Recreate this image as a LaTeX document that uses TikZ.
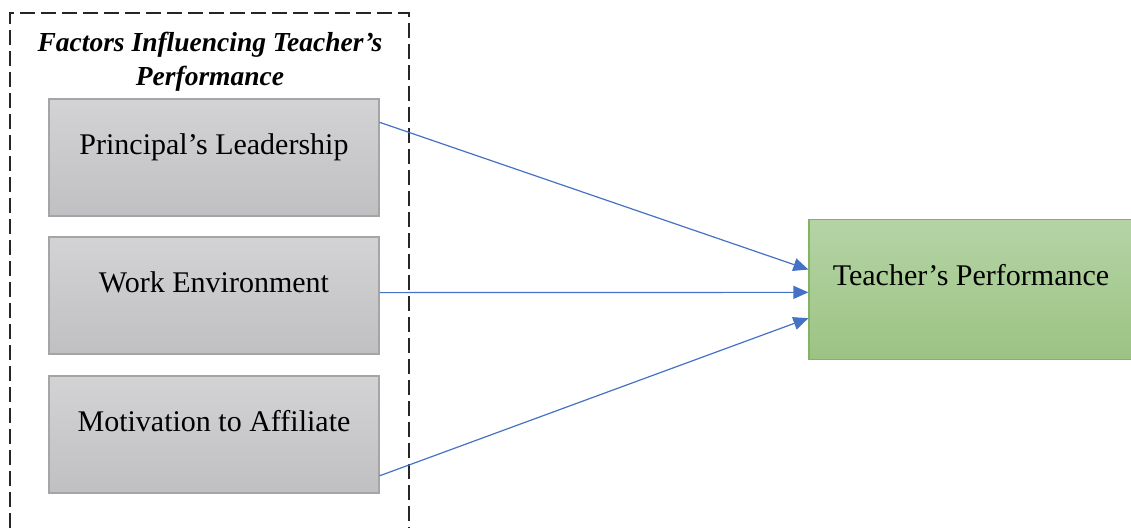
\documentclass[tikz,border=0pt]{standalone}
\usepackage{fontspec}
\setmainfont{Liberation Serif}
\usepackage{xcolor}
\usetikzlibrary{arrows.meta}

\definecolor{ArrowBlue}{HTML}{4472C4}
\definecolor{GreyTop}{HTML}{D3D3D5}
\definecolor{GreyBottom}{HTML}{C0C0C2}
\definecolor{GreyEdge}{HTML}{A5A5A5}
\definecolor{GreenTop}{HTML}{B5D4A6}
\definecolor{GreenBottom}{HTML}{9CC383}
\definecolor{GreenEdge}{HTML}{82B464}

\begin{document}
\begin{tikzpicture}[
          % Environment Config
          x=1pt, y=-1pt,
          font=\fontsize{30}{36}\selectfont,
          FactorBox/.style={% Style for the grey factor boxes
            draw=GreyEdge,
            line width=1.2pt,
            top color=GreyTop,
            bottom color=GreyBottom,
            minimum width=330pt,
            minimum height=117pt,
            inner sep=0pt,
            text height=20pt,
            text depth=26pt
          },
          OutcomeBox/.style={% Style for the green outcome box
            draw=GreenEdge,
            line width=1.2pt,
            top color=GreenTop,
            bottom color=GreenBottom,
            minimum width=324pt,
            minimum height=140pt,
            inner sep=0pt,
            text height=20pt,
            text depth=28pt
          },
          FlowArrow/.style={% Style for the influence arrows
            -{Triangle[length=15pt,width=13pt]},
            ArrowBlue,
            line width=1.2pt
          },
          GroupFrame/.style={% Style for the dashed frame
            line width=2pt,
            black!85,
            dash pattern=on 15pt off 6pt
          }
        ]

        \useasboundingbox (0,0) rectangle (1131,528);

        % Dashed frame round the factors
        \draw[GroupFrame] (10,528) -- (10,13) -- (409,13) -- (409,528);

        %===Title===
        \node[align=center, font=\fontsize{27.5}{34}\selectfont\bfseries\itshape] (title)
          at (210,62) {Factors Influencing Teacher’s\\Performance};

        %===Factors===
        \node[FactorBox] (pl) at (214,157.5) {Principal’s Leadership};
        \node[FactorBox] (we) at (214,295.5) {Work Environment};
        \node[FactorBox] (ma) at (214,434.5) {Motivation to Affiliate};

        %===Outcome===
        \node[OutcomeBox] (tp) at (971,289.5) {Teacher’s Performance};

        % Draw the arrows
        \draw[FlowArrow] (pl.12) -- (tp.173);
        \draw[FlowArrow] (we.1) -- (tp.181);
        \draw[FlowArrow] (ma.-14) -- (tp.190);

\end{tikzpicture}
\end{document}
